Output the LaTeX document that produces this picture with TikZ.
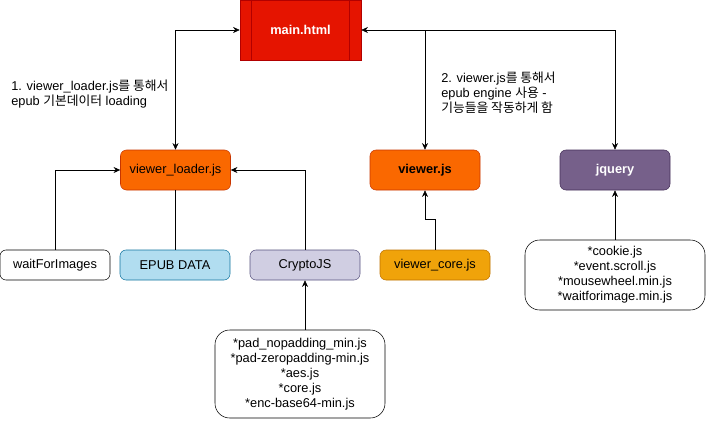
\documentclass[tikz,border=0pt]{standalone}
\usepackage{fontspec}
\setmainfont{Liberation Sans}
\newfontfamily\kr{Noto Sans CJK KR}
\usetikzlibrary{arrows.meta}
\definecolor{redfill}{HTML}{E51400}
\definecolor{redline}{HTML}{B20000}
\definecolor{orangefill}{HTML}{FA6800}
\definecolor{orangeline}{HTML}{C73500}
\definecolor{purplefill}{HTML}{76608A}
\definecolor{purpleline}{HTML}{432D57}
\definecolor{bluefill}{HTML}{B1DDF0}
\definecolor{blueline}{HTML}{10739E}
\definecolor{lilacfill}{HTML}{D0CEE2}
\definecolor{lilacline}{HTML}{56517E}
\definecolor{amberfill}{HTML}{F0A30A}
\definecolor{amberline}{HTML}{BD7000}
\begin{document}
\begin{tikzpicture}[x=0.75pt,y=-0.75pt,
  font=\fontsize{9.6}{11.25}\selectfont,
  >={Stealth[length=5pt,width=4.5pt]},
  bigbox/.style={draw,rounded corners=4.5pt,minimum width=82.5pt,minimum height=30pt,inner sep=0pt},
  smallbox/.style={draw,rounded corners=4.5pt,minimum width=82.5pt,minimum height=22.5pt,inner sep=0pt},
  listbox/.style={draw,rounded corners=11pt,align=center,inner sep=0pt}]
\useasboundingbox (0,0) rectangle (706,421);
%Hauptseite
  \node (main) at (300.5,30)
    [draw=redline,fill=redfill,text=white,minimum width=90.75pt,minimum height=45pt,inner sep=0pt]
    {\bfseries main.html};
  \draw[redline] ([xshift=9pt]main.north west) -- ([xshift=9pt]main.south west);
  \draw[redline] ([xshift=-9pt]main.north east) -- ([xshift=-9pt]main.south east);
%Module
  \node (loader) at (175.5,170)
    [bigbox,draw=orangeline,fill=orangefill]
    {viewer\_loader.js};
  \node (viewer) at (425,170)
    [bigbox,draw=orangeline,fill=orangefill]
    {\bfseries viewer.js};
  \node (jquery) at (615,170)
    [bigbox,draw=purpleline,fill=purplefill,text=white]
    {\bfseries jquery};
%Untere Reihe
  \node (wait) at (55,265)
    [smallbox]
    {waitForImages};
  \node (epub) at (175,265)
    [smallbox,draw=blueline,fill=bluefill]
    {EPUB DATA};
  \node (crypto) at (305,265)
    [smallbox,draw=lilacline,fill=lilacfill]
    {CryptoJS};
  \node (core) at (435,265)
    [smallbox,draw=amberline,fill=amberfill]
    {viewer\_core.js};
%Listen
  \node (cryptolist) at (300,374)
    [listbox,minimum width=127.5pt,minimum height=66pt]
    {*pad\_nopadding\_min.js\\*pad-zeropadding-min.js\\*aes.js\\*core.js\\*enc-base64-min.js};
  \node (jqlist) at (615,275)
    [listbox,minimum width=135pt,minimum height=52.5pt]
    {*cookie.js\\*event.scroll.js\\*mousewheel.min.js\\*waitforimage.min.js};
%Beschriftung
  \node (note1) at (11,80)
    [anchor=north west,align=left,inner sep=0pt]
    {1. viewer\_loader.js{\kr 를 통해서}\\epub {\kr 기본데이터} loading};
  \node (note2) at (441,72)
    [anchor=north west,align=left,inner sep=0pt]
    {2. viewer.js{\kr 를 통해서}\\epub engine {\kr 사용} -\\{\kr 기능들을 작동하게 함}};
%Pfeile
  \draw[<->] (main.west) -| (loader.north);
  \draw[<->] (main.east) -| (jquery.north);
  \draw[->] (main.east -| viewer.north) -- (viewer.north);
  \draw[->] (wait.north) |- (loader.west);
  \draw (epub.north) -- (epub.north |- loader.south);
  \draw[->] (crypto.north) |- (loader.east);
  \draw[->] (core.north) -- ++(0,-30) -| (viewer.south);
  \draw[->] (cryptolist.north -| crypto.south) -- (crypto.south);
  \draw[->] (jqlist.north) -- (jquery.south);
\end{tikzpicture}
\end{document}
